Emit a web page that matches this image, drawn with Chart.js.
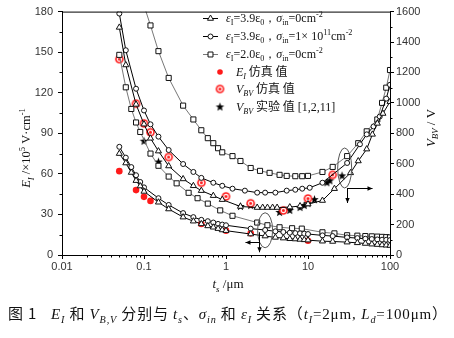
<!DOCTYPE html>
<html>
<head>
<meta charset="utf-8">
<script src="https://cdn.jsdelivr.net/npm/chart.js@4.4.0/dist/chart.umd.min.js"></script>
<style>
  html, body { margin: 0; padding: 0; background: #fff; }
  #wrap { width: 454px; height: 338px; }
</style>
</head>
<body>
<div id="wrap"><canvas id="chart" width="454" height="338"></canvas></div>
<script>
// ---- E_I curves (left axis, x10^5 V/cm) ----
const tsE = [0.05, 0.06, 0.07, 0.08, 0.09, 0.1, 0.15, 0.2, 0.3, 0.4, 0.5, 0.6, 0.7, 0.8, 0.9, 1,
             2, 3, 4, 5, 6, 7, 8, 9, 10, 15, 20, 30, 40, 50, 60, 70, 80, 90, 100];
const eTri = [75, 68, 61, 55, 51, 47, 39, 34, 28, 25, 23, 21.5, 20.5, 19.5, 18.5, 18,
              15.5, 14, 13, 12.5, 12, 11.8, 11.5, 11.2, 11, 10.2, 10, 9.5, 9, 8.5, 8, 7.7, 7.4, 7.2, 7];
const eCir = [80, 72, 65, 59, 54, 50, 42, 37, 31, 28, 26, 25, 24, 23, 22.5, 22,
              19.5, 18.5, 17.5, 17, 16.5, 16.2, 16, 15.8, 15.5, 14.5, 14, 13, 12.5, 12, 11.8, 11.5, 11.3, 11.2, 11];
const tsESq = [0.05, 0.06, 0.07, 0.08, 0.09, 0.12, 0.15, 0.2, 0.25, 0.35, 0.45, 0.6, 0.85, 1.2,
               2.4, 3.2, 4.5, 6.4, 8.4, 15, 21, 30, 40, 50, 60, 70, 80, 90, 100];
const eSq = [148, 124, 108, 98, 91, 75, 66, 58, 53, 46, 42, 38, 33, 29,
             24, 22, 20.5, 19.8, 19.5, 16.8, 16, 14.6, 14.3, 14, 13.8, 13.6, 13.4, 13.2, 13];

// ---- V_BV curves (right axis, V) ----
const tsVTri = [0.05, 0.06, 0.08, 0.1, 0.12, 0.15, 0.2, 0.3, 0.4, 0.5, 0.7, 0.9, 1.5, 2.4, 2.8, 3.2, 3.7, 4.2,
                6, 8, 10, 15, 21, 33, 41, 52, 61, 70, 82, 100];
const vTri = [1496, 1249, 990, 860, 767, 683, 585, 500, 455, 423, 390, 364, 319, 312, 312, 312, 312, 312,
              315, 322, 335, 358, 436, 540, 618, 696, 793, 865, 930, 1008];
const tsVCir = [0.05, 0.06, 0.08, 0.1, 0.12, 0.15, 0.2, 0.3, 0.4, 0.5, 0.7, 0.9, 1.2, 1.7, 2.4, 3, 4,
                5.5, 7, 8.5, 10.5, 15, 30, 43, 52, 63, 75, 90, 100];
const vCir = [1587, 1346, 1093, 950, 859, 778, 690, 598, 546, 507, 475, 455, 436, 423, 410, 410, 410,
              423, 429, 436, 442, 475, 605, 728, 793, 845, 910, 1028, 1119];
const tsVSq = [0.1, 0.12, 0.15, 0.2, 0.3, 0.4, 0.5, 0.6, 0.7, 0.8, 0.9, 1.2, 1.5, 2, 2.6, 3.4, 4.5, 5.5,
               7, 8.5, 10, 15, 20, 30, 41, 52, 70, 80, 90, 100];
const vSq = [1640, 1509, 1340, 1164, 982, 891, 820, 768, 735, 702, 675, 650, 618, 572, 553, 540, 527, 520,
             518, 518, 520, 546, 579, 650, 735, 813, 891, 1000, 1100, 1216];

// ---- simulated / experimental points ----
const tsESim = [0.05, 0.08, 0.1, 0.12, 0.5, 1, 2, 10];
const eSim = [62, 48, 43, 40, 23, 18, 16, 10.5];
const tsVSim = [0.05, 0.08, 0.1, 0.12, 0.2, 0.5, 1, 2, 5, 10, 20];
const vSim = [1288, 995, 865, 807, 644, 475, 385, 340, 293, 371, 527];
const tsVExp = [0.1, 0.15, 1.5, 2, 4.5, 6, 8, 9, 10, 12, 17, 18.5, 26];
const vExp = [748, 611, 319, 325, 280, 293, 312, 325, 338, 364, 475, 488, 520];

const xTicks = [0.01, 0.1, 1, 10, 100];

const SERIF = '"Liberation Serif", "Times New Roman", serif';
const CJK = '"Noto Sans CJK SC", sans-serif';
const TICKFONT = '"Liberation Sans Narrow", "Liberation Sans", Arial, sans-serif';

// rich text: [text, kind]; kind letters: i italic, s subscript, p superscript, c CJK
function rich(ctx, parts, x, y, size, draw) {
  let cx = x;
  for (const [t, k] of parts) {
    let fs = size, dy = 0;
    if (k.includes('s')) { fs = size * 0.68; dy = size * 0.28; }
    if (k.includes('p')) { fs = size * 0.68; dy = -size * 0.42; }
    const fam = k.includes('c') ? CJK : SERIF;
    ctx.font = (k.includes('i') ? 'italic ' : '') + fs + 'px ' + fam;
    if (draw) ctx.fillText(t, cx, y + dy);
    cx += ctx.measureText(t).width;
  }
  return cx - x;
}

function richRotated(ctx, parts, cx, cy, size) {
  ctx.save();
  ctx.translate(cx, cy);
  ctx.rotate(-Math.PI / 2);
  const w = rich(ctx, parts, 0, 0, size, false);
  rich(ctx, parts, -w / 2, size * 0.35, size, true);
  ctx.restore();
}

// stretch a line of rich text to a given width by letter spacing
function richSpread(ctx, parts, x, y, size, width) {
  ctx.letterSpacing = '0px';
  const w0 = rich(ctx, parts, x, y, size, false);
  const n = parts.reduce((s, p) => s + [...p[0]].length, 0);
  ctx.letterSpacing = Math.max(0, (width - w0) / n).toFixed(2) + 'px';
  rich(ctx, parts, x, y, size, true);
  ctx.letterSpacing = '0px';
}

function starImage(r) {
  const c = document.createElement('canvas');
  c.width = c.height = Math.ceil(2 * r + 2);
  const g = c.getContext('2d');
  g.beginPath();
  for (let i = 0; i < 10; i++) {
    const a = -Math.PI / 2 + i * Math.PI / 5;
    const rr = i % 2 ? r * 0.42 : r;
    g.lineTo(c.width / 2 + rr * Math.cos(a), c.height / 2 + rr * Math.sin(a));
  }
  g.closePath();
  g.fillStyle = '#000';
  g.fill();
  return c;
}

function ringImage(r) {
  const c = document.createElement('canvas');
  c.width = c.height = Math.ceil(2 * r + 2);
  const g = c.getContext('2d');
  const m = c.width / 2;
  g.fillStyle = '#ff1a1a';
  g.beginPath(); g.arc(m, m, r, 0, Math.PI * 2); g.fill();
  g.strokeStyle = '#fff'; g.lineWidth = 1.2;
  g.beginPath(); g.arc(m, m, r * 0.5, 0, Math.PI * 2); g.stroke();
  return c;
}

const STAR = starImage(4.5);
const RING = ringImage(4.3);

function pts(xs, ys) { return xs.map((x, i) => ({ x, y: ys[i] })); }

function curve(xs, ys, axis, style, radius, lineColor) {
  return {
    data: pts(xs, ys), yAxisID: axis, showLine: true,
    borderColor: lineColor, borderWidth: 1,
    pointStyle: style, pointRadius: radius, pointBorderWidth: 1,
    pointBorderColor: '#111', pointBackgroundColor: '#fff', clip: 0
  };
}

function marks(xs, ys, axis, style, radius, color) {
  return {
    data: pts(xs, ys), yAxisID: axis, showLine: false,
    pointStyle: style, pointRadius: radius, pointBorderWidth: 0,
    pointBackgroundColor: color, pointBorderColor: color, clip: 0
  };
}

const legendRows = [
  { mark: 'triangle', line: '#000', parts: [['ε', 'i'], ['I', 's'], ['=3.9ε', ''], ['0', 's'], ['，', ''], ['σ', 'i'], ['in', 's'], ['=0cm', ''], ['-2', 'p']] },
  { mark: 'circle', line: '#000', parts: [['ε', 'i'], ['I', 's'], ['=3.9ε', ''], ['0', 's'], ['，', ''], ['σ', 'i'], ['in', 's'], ['=1× 10', ''], ['11', 'p'], ['cm', ''], ['-2', 'p']] },
  { mark: 'rect', line: '#777', parts: [['ε', 'i'], ['I', 's'], ['=2.0ε', ''], ['0', 's'], ['，', ''], ['σ', 'i'], ['in', 's'], ['=0cm', ''], ['-2', 'p']] },
  { mark: 'dot', parts: [['E', 'i'], ['I', 'si'], [' 仿真 值', 'c']] },
  { mark: 'ring', parts: [['V', 'i'], ['BV', 'si'], [' 仿真 值', 'c']] },
  { mark: 'star', parts: [['V', 'i'], ['BV', 'si'], [' 实验 值', 'c'], [' [1,2,11]', '']] }
];

const caption = [['图 1', 'c'], ['   ', ''], ['E', 'i'], ['I', 'si'], [' 和 ', 'c'], ['V', 'i'], ['B,V', 'si'],
  [' 分别与 ', 'c'], ['t', 'i'], ['s', 'si'], ['、', 'c'], ['σ', 'i'], ['in', 'si'], [' 和 ', 'c'],
  ['ε', 'i'], ['I', 'si'], [' 关系（', 'c'], ['t', 'i'], ['I', 'si'], ['=2μm, ', ''], ['L', 'i'],
  ['d', 'si'], ['=100μm', ''], ['）', 'c']];

const callouts = [
  { ts: 3, v: 18.3, axis: 'y', rx: 7.5, ry: 17.5, jx: -6, jy: 12, hx: -14, vTop: 2, vBot: 22 },
  { ts: 28, v: 572, axis: 'y1', rx: 7, ry: 20, jx: 2, jy: 20, hx: 25, vTop: 20, vBot: 35 }
];

function arrowHead(ctx, x, y, dir) {
  ctx.beginPath();
  if (dir === 'left') { ctx.moveTo(x, y); ctx.lineTo(x + 5, y - 2.2); ctx.lineTo(x + 5, y + 2.2); }
  if (dir === 'right') { ctx.moveTo(x, y); ctx.lineTo(x - 5, y - 2.2); ctx.lineTo(x - 5, y + 2.2); }
  if (dir === 'down') { ctx.moveTo(x, y); ctx.lineTo(x - 2.2, y - 5); ctx.lineTo(x + 2.2, y - 5); }
  ctx.closePath(); ctx.fill();
}

const decor = {
  id: 'decor',
  afterDraw(chart) {
    const { ctx, chartArea: a, scales } = chart;
    ctx.save();
    // frame top and minor ticks
    ctx.strokeStyle = '#000'; ctx.lineWidth = 1;
    ctx.beginPath();
    ctx.moveTo(a.left, a.top + 0.5); ctx.lineTo(a.right, a.top + 0.5);
    for (let d = -2; d < 2; d++) {
      for (let k = 2; k < 10; k++) {
        const px = Math.round(scales.x.getPixelForValue(k * Math.pow(10, d))) + 0.5;
        ctx.moveTo(px, a.bottom); ctx.lineTo(px, a.bottom + 2.5);
      }
    }
    for (let v = 15; v < 180; v += 30) {
      const py = Math.round(scales.y.getPixelForValue(v)) + 0.5;
      ctx.moveTo(a.left, py); ctx.lineTo(a.left - 2.5, py);
    }
    for (let v = 100; v < 1600; v += 200) {
      const py = Math.round(scales.y1.getPixelForValue(v)) + 0.5;
      ctx.moveTo(a.right, py); ctx.lineTo(a.right + 2.5, py);
    }
    ctx.stroke();

    // callout ellipses with arrows
    ctx.fillStyle = '#000';
    for (const c of callouts) {
      const cx = scales.x.getPixelForValue(c.ts);
      const cy = scales[c.axis].getPixelForValue(c.v);
      ctx.strokeStyle = '#555';
      ctx.beginPath(); ctx.ellipse(cx, cy, c.rx, c.ry, 0, 0, Math.PI * 2); ctx.stroke();
      ctx.strokeStyle = '#000';
      const jx = Math.round(cx + c.jx) + 0.5, jy = Math.round(cy + c.jy) + 0.5;
      ctx.beginPath();
      ctx.moveTo(jx, jy); ctx.lineTo(jx + c.hx, jy);
      ctx.moveTo(jx, cy + c.vTop); ctx.lineTo(jx, cy + c.vBot);
      ctx.stroke();
      arrowHead(ctx, jx + c.hx, jy, c.hx < 0 ? 'left' : 'right');
      arrowHead(ctx, jx, cy + c.vBot, 'down');
    }

    // legend
    const rowsY = [18, 36, 54, 72, 89, 107];
    legendRows.forEach((r, i) => {
      const y = rowsY[i];
      if (r.line) {
        ctx.strokeStyle = r.line; ctx.lineWidth = 1;
        ctx.beginPath(); ctx.moveTo(203, y + 0.5); ctx.lineTo(218, y + 0.5); ctx.stroke();
        ctx.fillStyle = '#fff'; ctx.strokeStyle = '#111';
        Chart.helpers.drawPoint(ctx, { pointStyle: r.mark, radius: r.mark === 'circle' ? 2.5 : 3.5, borderWidth: 1 }, 210.5, y + 0.5);
      } else if (r.mark === 'dot') {
        ctx.fillStyle = '#ff1a1a';
        ctx.beginPath(); ctx.arc(220, y, 2.8, 0, Math.PI * 2); ctx.fill();
      } else {
        const img = r.mark === 'ring' ? RING : STAR;
        ctx.drawImage(img, 220 - img.width / 2, y - img.height / 2);
      }
      ctx.fillStyle = '#111';
      rich(ctx, r.parts, r.line ? 226 : 236, y + 4, 12, true);
    });

    // axis titles
    ctx.fillStyle = '#111';
    richRotated(ctx, [['E', 'i'], ['I', 'si'], [' /×10', ''], ['5', 'p'], [' V·cm', ''], ['-1', 'p']], 26, 148, 12.5);
    richRotated(ctx, [['V', 'i'], ['BV', 'si'], [' / V', '']], 430, 128, 13);
    const xt = [['t', 'i'], ['s', 'si'], [' /μm', '']];
    const w = rich(ctx, xt, 0, 0, 13, false);
    rich(ctx, xt, 228 - w / 2, 288, 13, true);

    // caption
    richSpread(ctx, caption, 8, 319, 15, 440);
    ctx.restore();
  }
};

const tickStyle = { font: { family: TICKFONT, size: 11 }, color: '#333' };

new Chart(document.getElementById('chart'), {
  type: 'line',
  data: {
    datasets: [
      curve(tsE, eTri, 'y', 'triangle', 3.5, '#000'),
      curve(tsE, eCir, 'y', 'circle', 2.5, '#000'),
      curve(tsESq, eSq, 'y', 'rect', 3.6, '#777'),
      curve(tsVTri, vTri, 'y1', 'triangle', 3.5, '#000'),
      curve(tsVCir, vCir, 'y1', 'circle', 2.5, '#000'),
      curve(tsVSq, vSq, 'y1', 'rect', 3.6, '#777'),
      marks(tsESim, eSim, 'y', 'circle', 3.3, '#ff1a1a'),
      marks(tsVSim, vSim, 'y1', RING, 4.3, '#ff1a1a'),
      marks(tsVExp, vExp, 'y1', STAR, 4.5, '#000')
    ]
  },
  options: {
    responsive: false,
    animation: false,
    layout: { padding: { top: 9, left: 0, right: 0, bottom: 0 } },
    plugins: { legend: { display: false }, tooltip: { enabled: false } },
    elements: { line: { tension: 0 } },
    scales: {
      x: {
        type: 'logarithmic', min: 0.01, max: 100,
        afterBuildTicks: (s) => { s.ticks = xTicks.map(v => ({ value: v, major: true })); },
        afterFit: (s) => { s.height = 83; },
        ticks: { ...tickStyle, padding: 1, maxRotation: 0, autoSkip: false,
                 callback: (v) => String(Number(v.toPrecision(3))) },
        grid: { drawOnChartArea: false, tickLength: 4, color: '#000' },
        border: { color: '#000' }
      },
      y: {
        position: 'left', min: 0, max: 180,
        afterFit: (s) => { s.width = 62; },
        ticks: { ...tickStyle, stepSize: 30, padding: 5, callback: (v) => String(v) },
        grid: { drawOnChartArea: false, tickLength: 4, color: '#000' },
        border: { color: '#000' }
      },
      y1: {
        position: 'right', min: 0, max: 1600,
        afterFit: (s) => { s.width = 64; },
        ticks: { ...tickStyle, stepSize: 200, padding: 2, callback: (v) => String(v) },
        grid: { drawOnChartArea: false, tickLength: 4, color: '#000' },
        border: { color: '#000' }
      }
    }
  },
  plugins: [decor]
});
</script>
</body>
</html>
